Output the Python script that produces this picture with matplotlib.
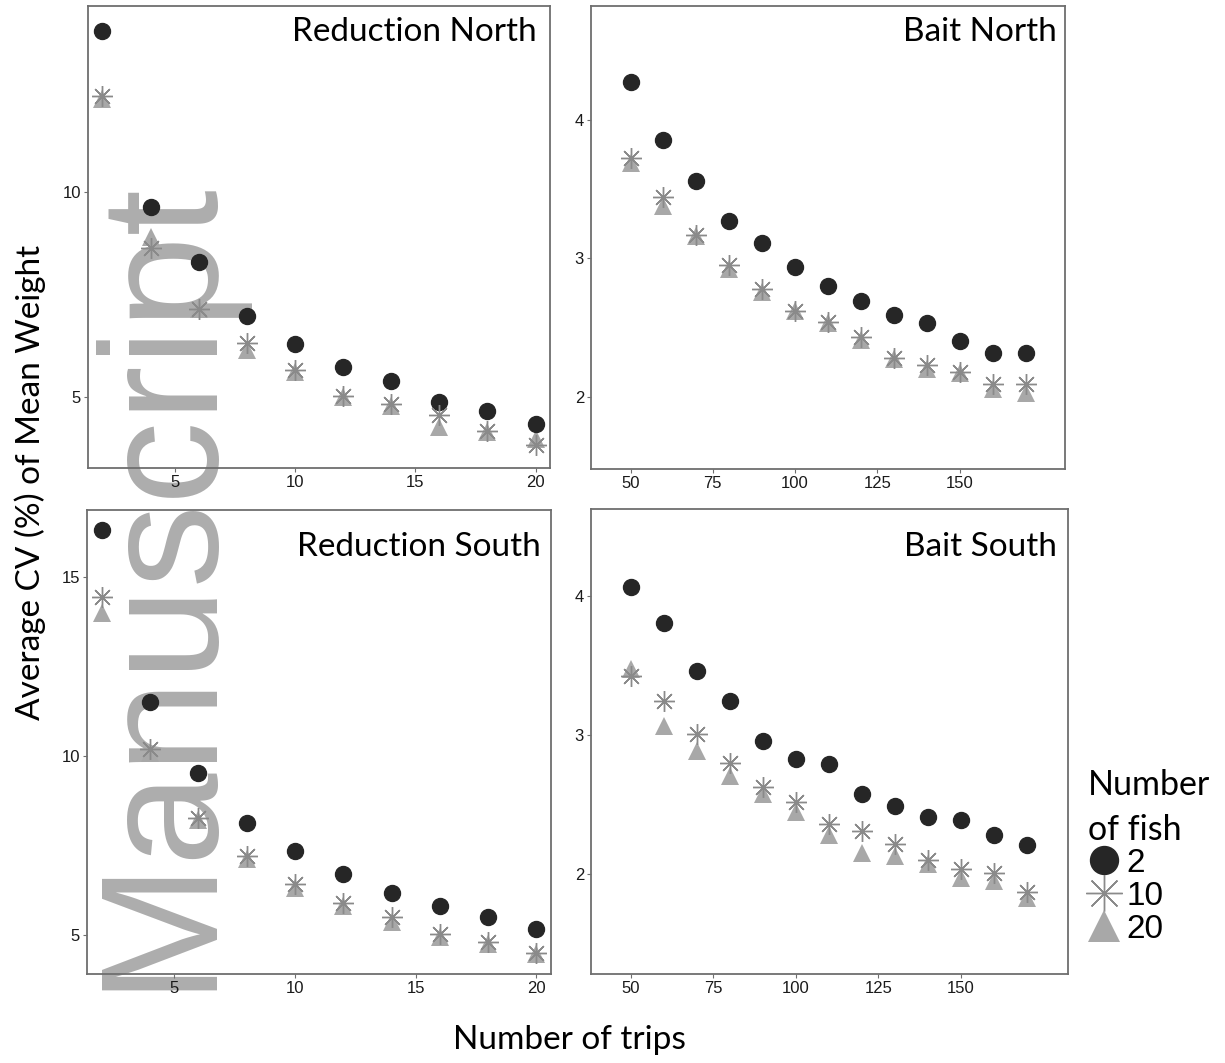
import matplotlib
matplotlib.use("Agg")
import matplotlib.pyplot as plt

# ---------------- data ----------------
trips_reduction = [2, 4, 6, 8, 10, 12, 14, 16, 18, 20]
trips_bait = [50, 60, 70, 80, 90, 100, 110, 120, 130, 140, 150, 160, 170]

red_north_2 = [13.93, 9.63, 8.30, 6.98, 6.30, 5.73, 5.39, 4.87, 4.66, 4.34]
red_north_10 = [12.35, 8.63, 7.16, 6.31, 5.66, 5.03, 4.82, 4.56, 4.18, 3.83]
red_north_20 = [12.27, 8.90, 7.16, 6.15, 5.60, 4.99, 4.78, 4.26, 4.14, 3.97]

bait_north_2 = [4.27, 3.85, 3.56, 3.27, 3.11, 2.94, 2.80, 2.69, 2.59, 2.53, 2.40, 2.32, 2.32]
bait_north_10 = [3.72, 3.44, 3.17, 2.95, 2.78, 2.62, 2.54, 2.43, 2.28, 2.23, 2.18, 2.09, 2.09]
bait_north_20 = [3.69, 3.38, 3.16, 2.92, 2.76, 2.62, 2.53, 2.41, 2.27, 2.20, 2.17, 2.06, 2.03]

red_south_2 = [16.30, 11.51, 9.53, 8.12, 7.35, 6.71, 6.17, 5.80, 5.50, 5.17]
red_south_10 = [14.43, 10.19, 8.26, 7.19, 6.43, 5.89, 5.49, 5.03, 4.80, 4.51]
red_south_20 = [13.98, 10.07, 8.20, 7.13, 6.31, 5.80, 5.35, 4.94, 4.75, 4.48]

bait_south_2 = [4.07, 3.81, 3.46, 3.25, 2.96, 2.83, 2.79, 2.58, 2.49, 2.41, 2.39, 2.28, 2.21]
bait_south_10 = [3.43, 3.25, 3.01, 2.80, 2.63, 2.52, 2.36, 2.31, 2.22, 2.10, 2.04, 2.01, 1.87]
bait_south_20 = [3.48, 3.07, 2.89, 2.71, 2.58, 2.45, 2.28, 2.15, 2.13, 2.07, 1.97, 1.95, 1.83]

fish_labels = ["2", "10", "20"]
panel_titles = ["Reduction North", "Bait North", "Reduction South", "Bait South"]
x_label = "Number of trips"
y_label = "Average CV (%) of Mean Weight"
legend_title = "Number\nof fish"
watermark = "Manuscript"

# ---------------- styles ----------------
W, H = 1225, 1063
C_CIRCLE = "#262626"
C_STAR = "#8a8a8a"
C_TRI = "#a8a8a8"
TITLE_FONT = "Lato"
TICK_FONT = "Liberation Sans"

fig = plt.figure(figsize=(W / 100, H / 100), dpi=100)


def px_axes(x0, y0, x1, y1):
    return fig.add_axes([x0 / W, 1 - y1 / H, (x1 - x0) / W, (y1 - y0) / H])


panels = [
    dict(box=(88, 6, 550, 468), x=trips_reduction,
         ys=(red_north_2, red_north_10, red_north_20), title_y=32, title_r=13,
         xlim=(1.4, 20.6), ylim=(3.27, 14.54), xt=[5, 10, 15, 20], yt=[5, 10]),
    dict(box=(591, 6, 1065, 469), x=trips_bait,
         ys=(bait_north_2, bait_north_10, bait_north_20), title_y=32, title_r=8,
         xlim=(38, 182), ylim=(1.48, 4.82), xt=[50, 75, 100, 125, 150], yt=[2, 3, 4]),
    dict(box=(87, 510, 551, 974), x=trips_reduction,
         ys=(red_south_2, red_south_10, red_south_20), title_y=547, title_r=10,
         xlim=(1.4, 20.6), ylim=(3.91, 16.86), xt=[5, 10, 15, 20], yt=[5, 10, 15]),
    dict(box=(591, 509, 1068, 974), x=trips_bait,
         ys=(bait_south_2, bait_south_10, bait_south_20), title_y=547, title_r=11,
         xlim=(38, 182.5), ylim=(1.28, 4.63), xt=[50, 75, 100, 125, 150], yt=[2, 3, 4]),
]

handles = None
for p, title in zip(panels, panel_titles):
    ax = px_axes(*p["box"])
    ax.set_facecolor("none")
    ax.set_zorder(1)
    y2, y10, y20 = p["ys"]
    h2, = ax.plot(p["x"], y2, ls="none", marker="o", ms=11.5, color=C_CIRCLE,
                  mec=C_CIRCLE, zorder=5)
    h20, = ax.plot(p["x"], y20, ls="none", marker="^", ms=13.5, color=C_TRI,
                   mec=C_TRI, mew=0, zorder=4)
    h10, = ax.plot(p["x"], y10, ls="none", marker=(8, 2, 0), ms=15, color=C_STAR,
                   mec=C_STAR, mew=1.0, zorder=6)
    handles = (h2, h10, h20)
    ax.set_xlim(*p["xlim"])
    ax.set_ylim(*p["ylim"])
    ax.set_xticks(p["xt"])
    ax.set_yticks(p["yt"])
    for s in ax.spines.values():
        s.set_color("#6e6e6e")
        s.set_linewidth(1.3)
    ax.tick_params(direction="out", length=3, width=0.8, color="#6e6e6e",
                   labelsize=12, labelcolor="#1a1a1a", pad=2)
    for lab in ax.get_xticklabels() + ax.get_yticklabels():
        lab.set_fontfamily(TICK_FONT)
    x0, y0, x1, y1 = p["box"]
    ty = 1 - (p["title_y"] - y0) / (y1 - y0)
    ax.text(1 - p["title_r"] / (x1 - x0), ty, title, transform=ax.transAxes,
            ha="right", va="center", fontsize=24, family=TITLE_FONT,
            color="black", zorder=7)

fig.text(30 / W, 1 - 482 / H, y_label, rotation=90, ha="center", va="center",
         fontsize=24, family=TITLE_FONT)
fig.text(569 / W, 1 - 1040 / H, x_label, ha="center", va="center",
         fontsize=24, family=TITLE_FONT)

leg = fig.legend(handles, fish_labels, title=legend_title, loc="upper left",
                 bbox_to_anchor=(1088 / W, 1 - 769 / H), frameon=False,
                 prop=dict(family=TICK_FONT, size=24), markerscale=1.75,
                 handlelength=0.95, handletextpad=0.2, labelspacing=0.06,
                 borderpad=0, borderaxespad=0, alignment="left",
                 title_fontproperties=dict(family=TITLE_FONT, size=24.5))
leg.get_title().set_linespacing(1.5)

# watermark
fig.text(204 / W, 1 - 990 / H, watermark, rotation=90, rotation_mode="anchor",
         ha="left", va="baseline", fontsize=120, family="Liberation Sans",
         color="#adadad", zorder=-1)

fig.savefig("out.png", dpi=100)
